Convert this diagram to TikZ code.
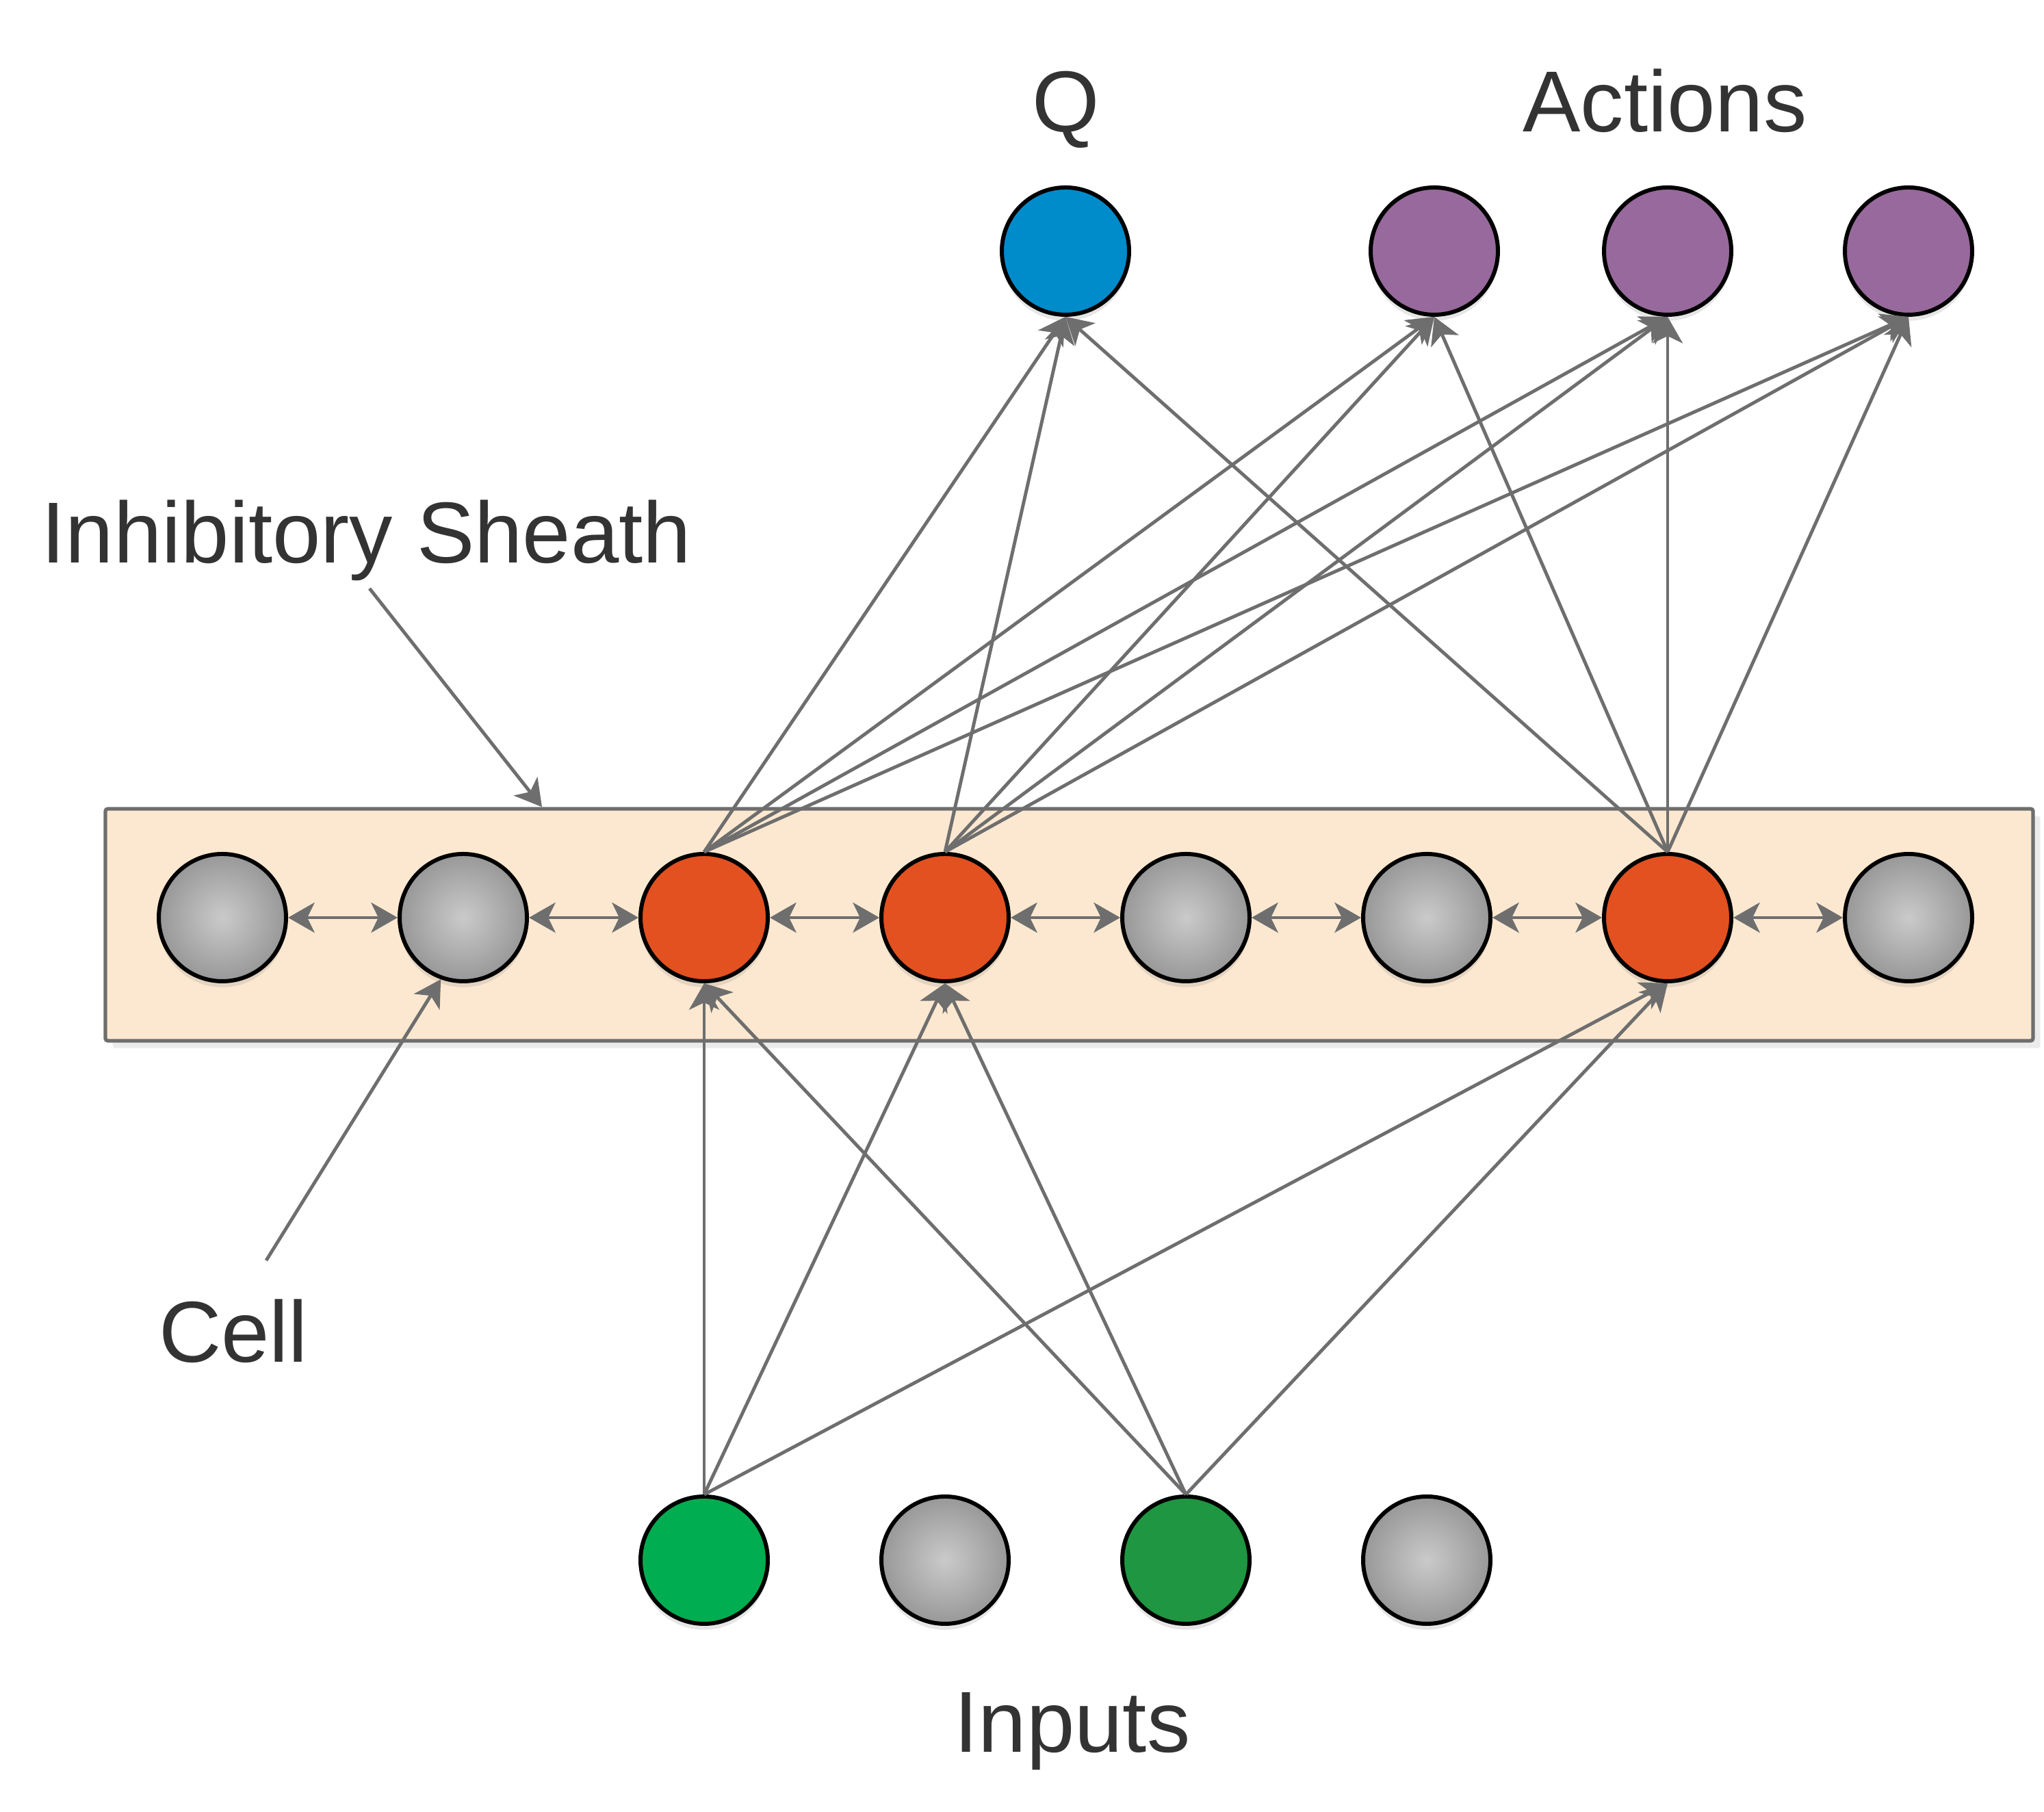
\documentclass[tikz,border=0pt]{standalone}
\usepackage{fontspec}
\setmainfont{Liberation Sans}
\usepackage{tikz}
\usetikzlibrary{arrows.meta,positioning,shadows,calc}

\definecolor{sheathfill}{HTML}{FCE8D0}
\definecolor{linkgray}{HTML}{6E6E6E}
\definecolor{cellin}{HTML}{CACACA}
\definecolor{cellout}{HTML}{989898}
\definecolor{cellred}{HTML}{E2511F}
\definecolor{qblue}{HTML}{008BCB}
\definecolor{actpurple}{HTML}{98699C}
\definecolor{ingreen}{HTML}{00AD50}
\definecolor{indkgreen}{HTML}{1F9641}
\definecolor{labelgray}{HTML}{333333}

\begin{document}
\begin{tikzpicture}[
  node distance=3.52cm,
  on grid,
  >={Stealth[length=11pt,width=12.5pt,inset=3pt]},
  every node/.style={font=\fontsize{36}{43}\selectfont,text=labelgray},
  unit/.style={circle,minimum size=1.86cm,inner sep=0pt,draw=black,line width=1.7pt,
    drop shadow={shadow xshift=0pt,shadow yshift=-2.5pt,opacity=.2}},
  grey unit/.style={unit,inner color=cellin,outer color=cellout},
  red unit/.style={unit,fill=cellred},
  blue unit/.style={unit,fill=qblue},
  purple unit/.style={unit,fill=actpurple},
  green unit/.style={unit,fill=ingreen},
  dark green unit/.style={unit,fill=indkgreen},
  sheath/.style={rectangle,draw=linkgray,line width=1.5pt,fill=sheathfill,
    minimum width=28.17cm,minimum height=3.39cm,rounded corners=1pt,
    drop shadow={shadow xshift=3pt,shadow yshift=-3pt,fill=black!8,opacity=1}},
  link/.style={->,draw=linkgray,line width=1.4pt},
  both/.style={<->,draw=linkgray,line width=1.4pt},
  lbl/.style={inner sep=0pt,anchor=base}]
  \useasboundingbox (0,0) rectangle (29.87,26.48);
  % c-cell i-input q-value a-action
  \node [sheath] (sheath) at (15.625,12.965) {};
  \node [grey unit] (c1) at (3.25,13.07) {};
  \node [grey unit] (c2) [right=of c1] {};
  \node [red unit]  (c3) [right=of c2] {};
  \node [red unit]  (c4) [right=of c3] {};
  \node [grey unit] (c5) [right=of c4] {};
  \node [grey unit] (c6) [right=of c5] {};
  \node [red unit]  (c7) [right=of c6] {};
  \node [grey unit] (c8) [right=of c7] {};

  \node [green unit]      (i1) [below=9.39cm of c3] {};
  \node [grey unit]       (i2) [right=of i1] {};
  \node [dark green unit] (i3) [right=of i2] {};
  \node [grey unit]       (i4) [right=of i3] {};

  \node [blue unit]   (q)  at (15.57,22.81) {};
  \node [purple unit] (a2) [above=9.74cm of c7] {};
  \node [purple unit] (a3) [right=of a2] {};
  \node [purple unit] (a1) [left=3.41cm of a2] {};

  \node [lbl] (qlabel)   at (15.58,24.55) {Q};
  \node [lbl] (actlabel) at (24.33,24.55) {Actions};
  \node [lbl,anchor=base west] (sheathlabel) at (0.60,18.25) {Inhibitory Sheath};
  \node [lbl] (celllabel) at (3.41,6.57) {Cell};
  \node [lbl] (inlabel)   at (15.67,0.87) {Inputs};

  \coordinate (sheathtail) at (5.40,17.88);
  \coordinate (celltail)   at (3.89,8.06);
  \draw [link] (sheathtail) -- ($(sheath.north west)!0.227!(sheath.north east)$);
  \draw [link] (celltail) -- (c2.250);

  \foreach \l/\r in {c1/c2,c2/c3,c3/c4,c4/c5,c5/c6,c6/c7,c7/c8}
    \draw [both] (\l.east) -- (\r.west);
  \foreach \s in {c3,c4,c7}
    \foreach \t in {q,a1,a2,a3}
      \draw [link] (\s.north) -- (\t.south);
  \foreach \s in {i1,i3}
    \foreach \t in {c3,c4,c7}
      \draw [link] (\s.north) -- (\t.south);
\end{tikzpicture}
\end{document}
